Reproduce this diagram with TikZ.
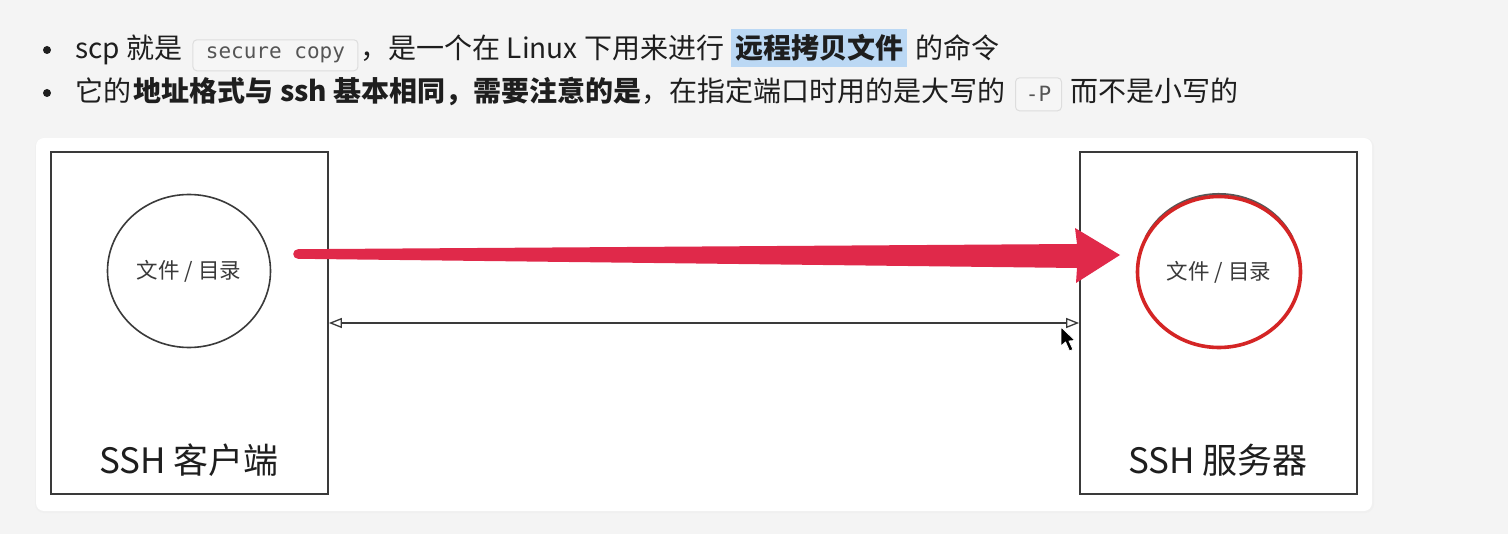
\documentclass[tikz,border=0pt]{standalone}
\usepackage{fontspec}
\setmainfont{Noto Sans CJK SC}
\newfontfamily\codefont{DejaVu Sans Mono}
\usetikzlibrary{arrows.meta,shapes.geometric}
\definecolor{pagebg}{HTML}{F4F4F4}
\definecolor{txt}{HTML}{1E1E1E}
\definecolor{stroke}{HTML}{3A3A3A}
\definecolor{hl}{HTML}{BBD8F4}
\definecolor{codebg}{HTML}{F6F6F6}
\definecolor{codeborder}{HTML}{DDDDDD}
\definecolor{codetxt}{HTML}{555555}
\definecolor{annot}{HTML}{E0294A}
\definecolor{ringred}{HTML}{D42525}
\tikzset{
  seg/.style={anchor=base west,inner sep=0pt,text=txt,font=\fontsize{28}{33}\selectfont},
  boldseg/.style={seg,font=\bfseries\fontsize{28}{33}\selectfont},
  codebox/.style={anchor=base west,draw=codeborder,fill=codebg,rounded corners=4pt,line width=1pt,inner sep=0pt,text=codetxt,font=\codefont\fontsize{21}{26}\selectfont},
  hostbox/.style={draw=stroke,line width=1.8pt,fill=white,minimum width=277pt,minimum height=342pt,inner sep=0pt},
  fileball/.style={ellipse,draw=stroke,line width=1.6pt,minimum width=163pt,minimum height=153pt,inner sep=0pt,text=stroke,font=\fontsize{21.5}{25}\selectfont},
  hostlabel/.style={anchor=base,inner sep=0pt,text=txt,font=\fontsize{35}{40}\selectfont},
  dbl/.style={draw=stroke,line width=1.3pt,{Triangle[open,length=13pt,width=10pt]}-{Triangle[open,length=13pt,width=10pt]}}
}
\begin{document}
\begin{tikzpicture}[x=1pt,y=-1pt]
\useasboundingbox (0,0) rectangle (1508,534);
\fill[pagebg] (0,0) rectangle (1508,534);
% bullets
\fill[txt] (47,50) circle (4);
\fill[txt] (47,93) circle (4);
% line 1
\node[seg] (l1a) at (75,59) {scp 就是};
\node[codebox,minimum width=165pt,minimum height=31pt,xshift=10pt] (c1) at (l1a.base east) {secure copy};
\node[seg,xshift=2pt] (l1b) at (c1.base east) {，是一个在 Linux 下用来进行};
\node[boldseg,fill=hl,inner xsep=4pt,minimum height=38pt,xshift=7pt] (l1c) at (l1b.base east) {远程拷贝文件};
\node[seg,xshift=8pt] (l1d) at (l1c.base east) {的命令};
% line 2
\node[seg] (l2a) at (75,102) {它的};
\node[boldseg,xshift=2pt] (l2b) at (l2a.base east) {地址格式与 ssh 基本相同，需要注意的是};
\node[seg] (l2c) at (l2b.base east) {，在指定端口时用的是大写的};
\node[codebox,minimum width=46pt,minimum height=33pt,xshift=9pt] (c2) at (l2c.base east) {-P};
\node[seg,xshift=8pt] (l2d) at (c2.base east) {而不是小写的};
% card
\fill[black!6,rounded corners=9pt] (35,138) rectangle (1374,513);
\fill[white,rounded corners=8pt] (36,138) rectangle (1372,511);
% hosts
\node[hostbox] (client) at (189.5,323) {};
\node[hostbox] (server) at (1218.5,323) {};
\node[hostlabel] (clientlbl) at (189,474) {SSH 客户端};
\node[hostlabel] (serverlbl) at (1218,474) {SSH 服务器};
% files
\node[fileball] (cfile) at (189,271) {文件 / 目录};
\draw[stroke!85,line width=2pt] ([shift={(205:81 and 75)}]1219,269) arc[start angle=205,end angle=335,x radius=81,y radius=75];
\node[fileball,draw=ringred,line width=3.6pt,minimum height=151pt] (sfile) at (1219,272) {文件 / 目录};
% double-headed connector
\draw[dbl] (client.east) -- (server.west);
% red annotation arrow
\coordinate (rs) at (298,254);
\coordinate (rt) at (1120,255);
\fill[annot] (rs) circle (4.8);
\fill[annot] (298,249.2) -- (1077,244) -- (1075,228) -- (rt) -- (1076,283) -- (1077,268) -- (298,258.8) -- cycle;
% mouse cursor
\filldraw[fill=black,draw=white,line width=0.8pt,line join=round]
  (1061,327) -- (1061,346) -- (1065.5,342) -- (1069.5,351) -- (1073,349.5) -- (1069,341) -- (1075,340.5) -- cycle;
\end{tikzpicture}
\end{document}
